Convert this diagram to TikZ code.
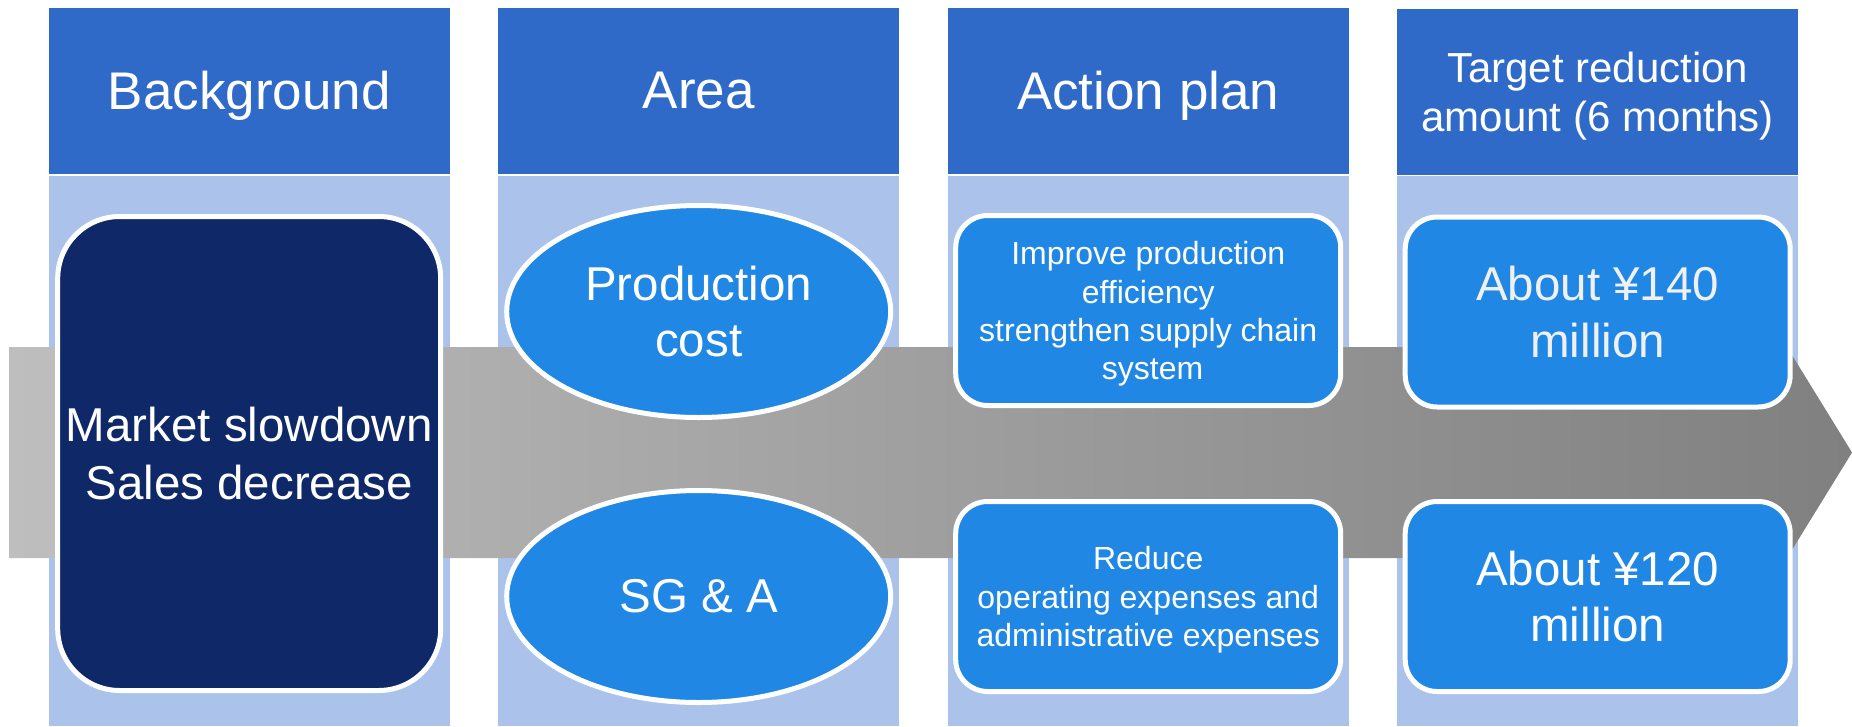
\documentclass[tikz,border=0pt]{standalone}
\usepackage{fontspec}
\setmainfont{Liberation Sans}
\usetikzlibrary{shapes.geometric}

\definecolor{headblue}{HTML}{306AC9}
\definecolor{bodyblue}{HTML}{ABC3EA}
\definecolor{navybox}{HTML}{0F2968}
\definecolor{itemblue}{HTML}{2088E4}
\definecolor{shaftlight}{HTML}{BEBEBE}
\definecolor{shaftdark}{HTML}{808080}

\begin{document}
\begin{tikzpicture}[x=1pt,y=-1pt,
  header/.style={fill=headblue, minimum width=401pt, minimum height=166pt,
    inner sep=0pt, text=white, align=center},
  colbody/.style={fill=bodyblue, minimum width=401pt, minimum height=550pt,
    inner sep=0pt},
  item/.style={fill=itemblue, draw=white, line width=5pt, text=white,
    align=center, inner sep=0pt},
  itembox/.style={item, rectangle, rounded corners=32pt,
    minimum width=385pt, minimum height=190pt},
  itemoval/.style={item, ellipse, minimum width=384pt, minimum height=212pt},
  headfont/.style={font=\fontsize{53}{64}\selectfont, text depth=0pt},
  bigfont/.style={font=\fontsize{47.5}{56.5}\selectfont},
  smallfont/.style={font=\fontsize{32}{38.2}\selectfont}
]
\useasboundingbox (0,0) rectangle (1852,726);

% column headers
\node[header, headfont] (h1) at (249.2,90.7) {Background};
\node[header, headfont] (h2) at (698.7,90.7) {Area};
\node[header, headfont] (h3) at (1148.2,90.7) {Action plan};
\node[header, font=\fontsize{42}{49.5}\selectfont] (h4) at (1597.7,91.7)
  {Target reduction\\\smash{amount (6 months)}};

% column bodies
\node[colbody] (b1) at (249.2,451) {};
\node[colbody] (b2) at (698.7,451) {};
\node[colbody] (b3) at (1148.2,451) {};
\node[colbody] (b4) at (1597.7,451) {};

% flow arrow behind the items
\shade[left color=shaftlight, right color=shaftdark]
  (9,347) -- (1787,347) -- (1852,452.5) -- (1787,558) -- (9,558) -- cycle;

% background
\node[item, fill=navybox, rectangle, rounded corners=62pt,
  minimum width=383pt, minimum height=474pt, bigfont,
  font=\fontsize{47.5}{57.5}\selectfont] (bg) at (249.2,453.5)
  {Market slowdown\\Sales decrease};

% areas
\node[itemoval, bigfont] (prod) at (698.7,311.5) {Production\\cost};
\node[itemoval, bigfont] (sga) at (698.7,596.5) {SG \& A};

% action plans
\node[itembox, smallfont] (act1) at (1148.2,310.5)
  {Improve production\ \\efficiency\ \ \\strengthen supply chain\\\smash{\ system}};
\node[itembox, smallfont] (act2) at (1148.2,596.5)
  {Reduce\\operating expenses and\\\smash{administrative expenses}};

% targets
\node[itembox, bigfont, text=white!94!black] (t1) at (1597.7,312)
  {About ¥140\\million};
\node[itembox, bigfont] (t2) at (1597.7,596.5) {About ¥120\\million};
\end{tikzpicture}
\end{document}
